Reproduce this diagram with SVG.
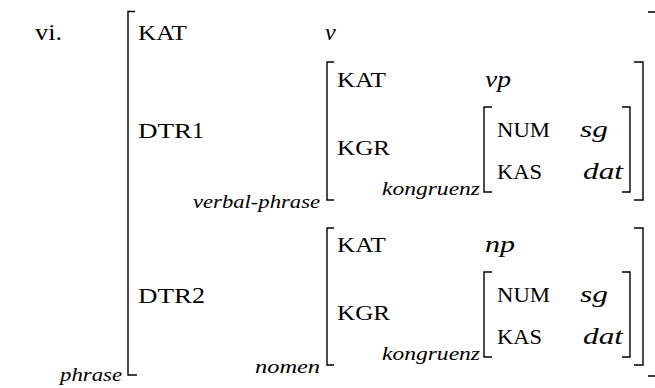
<svg xmlns="http://www.w3.org/2000/svg" width="655" height="388" viewBox="0 0 655 388">
<style>
.br{fill:none;stroke:#000;stroke-width:1.4}
text{font-family:'Liberation Serif','DejaVu Serif',serif;fill:#000}
.sc{font-size:21px}
.rm{font-size:24px}
.it{font-style:italic;font-size:24px}
.sub{font-style:italic;font-size:18px}
</style>
<rect width="655" height="388" fill="#fff"/>
<text class="rm" x="35" y="40" textLength="27" lengthAdjust="spacingAndGlyphs">vi.</text>
<g id="outer">
<path class="br" d="M135,11.5 H128 V375 H137"/>
<path class="br" d="M648,12 H656 V376 H648"/>
<text class="sc" x="138" y="40" textLength="49" lengthAdjust="spacingAndGlyphs">KAT</text>
<text class="it" x="325" y="40">v</text>
<text class="sc" x="138" y="138" textLength="54" lengthAdjust="spacingAndGlyphs">DTR</text>
<text class="rm" x="192" y="138" textLength="12" lengthAdjust="spacingAndGlyphs">1</text>
<text class="sc" x="138" y="303" textLength="54" lengthAdjust="spacingAndGlyphs">DTR</text>
<text class="rm" x="192" y="303" textLength="13" lengthAdjust="spacingAndGlyphs">2</text>
<text class="sub" x="60" y="381" textLength="62" lengthAdjust="spacingAndGlyphs">phrase</text>
</g>
<g id="dtr1">
<path class="br" d="M334,62 H327 V200 H334"/>
<path class="br" d="M634,62 H643 V200 H634"/>
<text class="sc" x="337" y="87" textLength="49" lengthAdjust="spacingAndGlyphs">KAT</text>
<text class="it" x="485" y="87" textLength="26" lengthAdjust="spacingAndGlyphs">vp</text>
<text class="sc" x="337" y="155" textLength="53" lengthAdjust="spacingAndGlyphs">KGR</text>
<text class="sub" x="193" y="208" textLength="127" lengthAdjust="spacingAndGlyphs">verbal-phrase</text>
</g>
<g id="kgr1">
<path class="br" d="M492,107 H484 V192 H492"/>
<path class="br" d="M622,107 H630 V192 H622"/>
<text class="sc" x="497" y="137" textLength="53" lengthAdjust="spacingAndGlyphs">NUM</text>
<text class="it" x="580" y="137" textLength="28" lengthAdjust="spacingAndGlyphs">sg</text>
<text class="sc" x="497" y="179" textLength="45" lengthAdjust="spacingAndGlyphs">KAS</text>
<text class="it" x="583" y="179" textLength="40" lengthAdjust="spacingAndGlyphs">dat</text>
<text class="sub" x="382" y="195" textLength="98" lengthAdjust="spacingAndGlyphs">kongruenz</text>
</g>
<g id="dtr2">
<path class="br" d="M334,228 H327 V365 H334"/>
<path class="br" d="M634,228 H643 V365 H634"/>
<text class="sc" x="337" y="252" textLength="49" lengthAdjust="spacingAndGlyphs">KAT</text>
<text class="it" x="485" y="252" textLength="30" lengthAdjust="spacingAndGlyphs">np</text>
<text class="sc" x="337" y="320" textLength="53" lengthAdjust="spacingAndGlyphs">KGR</text>
<text class="sub" x="255" y="373" textLength="65" lengthAdjust="spacingAndGlyphs">nomen</text>
</g>
<g id="kgr2">
<path class="br" d="M492,272 H484 V357 H492"/>
<path class="br" d="M622,272 H630 V357 H622"/>
<text class="sc" x="497" y="302" textLength="53" lengthAdjust="spacingAndGlyphs">NUM</text>
<text class="it" x="580" y="302" textLength="28" lengthAdjust="spacingAndGlyphs">sg</text>
<text class="sc" x="497" y="344" textLength="45" lengthAdjust="spacingAndGlyphs">KAS</text>
<text class="it" x="583" y="344" textLength="40" lengthAdjust="spacingAndGlyphs">dat</text>
<text class="sub" x="382" y="360" textLength="98" lengthAdjust="spacingAndGlyphs">kongruenz</text>
</g>
</svg>
